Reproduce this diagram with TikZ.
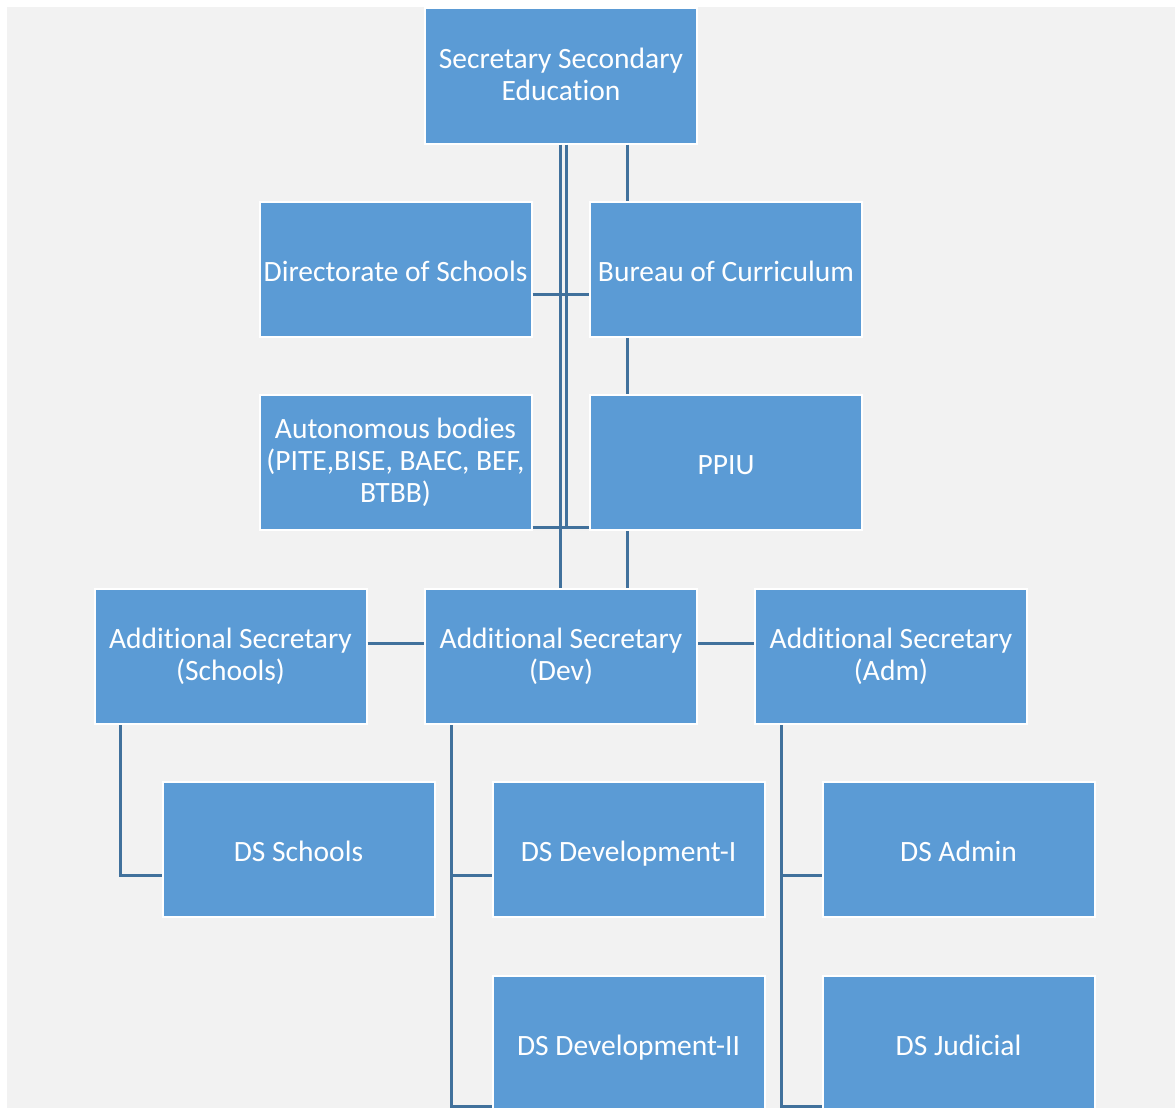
\documentclass[tikz,border=0pt]{standalone}
\usepackage{fontspec}
\setmainfont{Carlito}[Ligatures=NoCommon]
\definecolor{boxblue}{HTML}{5B9BD5}
\definecolor{linkblue}{HTML}{41719C}
\definecolor{bggray}{HTML}{F2F2F2}
\newcommand\orgstrut{\rule[-4pt]{0pt}{32pt}}
\tikzset{
  orgbox/.style={rectangle, fill=boxblue, draw=white, line width=2pt,
    minimum width=272pt, minimum height=135pt, inner sep=1pt,
    text=white, align=center, font=\fontsize{29.5}{32}\selectfont,
    execute at begin node=\orgstrut, execute at end node=\orgstrut},
  link/.style={draw=linkblue, line width=3pt}
}
\begin{document}
\begin{tikzpicture}[x=1pt,y=-1pt]
\useasboundingbox (0,0) rectangle (1175,1108);
\clip (0,0) rectangle (1175,1108);
\fill[white] (0,0) rectangle (1175,1108);
\fill[bggray] (7,7) rectangle (1175,1108);

\node[orgbox] (sec) at (561,76) {Secretary Secondary\\Education};
\node[orgbox] (dir) at (395.5,269.5) {Directorate of Schools};
\node[orgbox] (bur) at (726,269.5) {Bureau of Curriculum};
\node[orgbox] (auto) at (395.5,462.5) {Autonomous bodies\\(PITE,BISE, BAEC, BEF,\\BTBB)};
\node[orgbox] (ppiu) at (726,462.5) {PPIU};
\node[orgbox] (ass) at (230.5,656.5) {Additional Secretary\\(Schools)};
\node[orgbox] (asd) at (561,656.5) {Additional Secretary\\(Dev)};
\node[orgbox] (asa) at (891,656.5) {Additional Secretary\\(Adm)};
\node[orgbox] (dss) at (298.5,849.5) {DS Schools};
\node[orgbox] (dsd1) at (628.5,849.5) {DS Development-I};
\node[orgbox] (dsa) at (958.5,849.5) {DS Admin};
\node[orgbox] (dsd2) at (628.5,1043.5) {DS Development-II};
\node[orgbox] (dsj) at (958.5,1043.5) {DS Judicial};

% double vertical trunk
\coordinate (t1) at ([xshift=-1pt]sec.south);
\coordinate (t2) at ([xshift=5pt]sec.south);
\coordinate (d1) at ([yshift=-24.5pt]dir.east);
\coordinate (d2) at ([yshift=-64.5pt]auto.east);
\draw[link] (t1) -- (t1 |- asd.north);
\draw[link] (t2) -- (t2 |- d2);
\draw[link] (d1) -- (d1 -| bur.west);
\draw[link] (d2) -- (d2 -| ppiu.west);

% right vertical chain
\coordinate (r) at ([xshift=66pt]sec.south);
\coordinate (rb) at (r |- bur.south);
\coordinate (rp) at (r |- ppiu.south);
\draw[link] (r) -- (r |- bur.north);
\draw[link] (rb) -- (rb |- ppiu.north);
\draw[link] (rp) -- (rp |- asd.north);

% horizontal links between additional secretaries
\draw[link] ([yshift=13.5pt]ass.east) -- ([yshift=13.5pt]asd.west);
\draw[link] ([yshift=13.5pt]asd.east) -- ([yshift=13.5pt]asa.west);

% deputy secretaries
\draw[link] ([xshift=27pt]ass.south west) |- ([yshift=-25.5pt]dss.west);
\draw[link] ([xshift=27pt]asd.south west) |- ([yshift=-25.5pt]dsd1.west);
\draw[link] ([xshift=27pt]asd.south west) |- ([yshift=-62.5pt]dsd2.west);
\draw[link] ([xshift=27pt]asa.south west) |- ([yshift=-25.5pt]dsa.west);
\draw[link] ([xshift=27pt]asa.south west) |- ([yshift=-62.5pt]dsj.west);
\end{tikzpicture}
\end{document}
